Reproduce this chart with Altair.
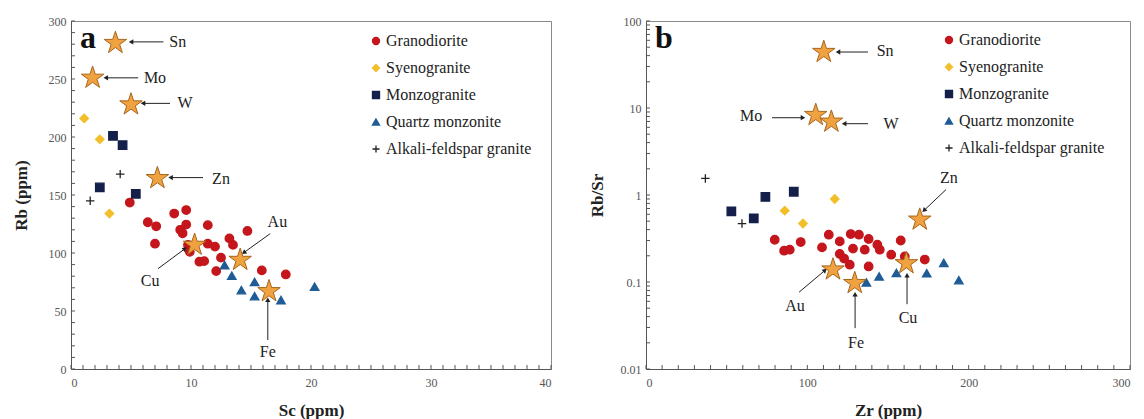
import math
import altair as alt
import pandas as pd

# ---------------- data: panel a (Sc vs Rb) ----------------
rocks = ["Granodiorite", "Syenogranite", "Monzogranite", "Quartz monzonite", "Alkali-feldspar granite"]
rock_colors = ["#C4161C", "#F2BF2A", "#14204A", "#1F5C96", "#222222"]
PLUS = "M-1,0H1M0,-1V1"
rock_shapes = ["circle", "diamond", "square", "triangle-up", PLUS]

gd_a_sc = [4.9, 8.6, 9.6, 6.4, 7.1, 9.6, 9.1, 9.3, 11.4, 7.0, 9.75, 9.9, 10.7, 11.1, 11.4, 12.0, 13.2, 13.5, 12.5, 12.1, 14.7, 15.9, 17.9]
gd_a_rb = [143.5, 134, 137, 126.5, 123, 124.5, 120, 117, 124, 108, 107, 101, 92.5, 93, 108, 105.5, 112.6, 107, 96, 84.4, 119, 85, 81.5]
sy_a_sc = [1.1, 2.4, 3.2]
sy_a_rb = [216, 198, 134]
mz_a_sc = [3.5, 4.3, 2.4, 5.4]
mz_a_rb = [201, 193, 156.5, 151]
qm_a_sc = [12.8, 13.4, 15.3, 14.2, 15.3, 17.5, 20.3]
qm_a_rb = [89.6, 80.4, 75, 68, 62.8, 59.4, 71]
af_a_sc = [4.1, 1.6]
af_a_rb = [168, 145]

elements = ["Sn", "Mo", "W", "Zn", "Cu", "Au", "Fe"]
star_a_sc = [3.7, 1.8, 5.0, 7.2, 10.3, 14.1, 16.5]
star_a_rb = [281, 251, 228, 164.5, 107, 94, 67]
# annotation: text position, arrow start, arrow end (data units)
lab_a_x = [8.9, 7.0, 9.5, 12.5, 6.6, 17.2, 16.4]
lab_a_y = [282, 250.5, 229, 164, 76, 127, 14.5]
arr_a_x1 = [7.7, 5.6, 8.25, 11.0, 7.25, 16.6, 16.4]
arr_a_y1 = [282, 251, 229, 165, 86.5, 116.7, 25]
arr_a_x2 = [5.0, 2.9, 6.0, 8.3, 9.5, 14.4, 16.4]
arr_a_y2 = [282, 251, 229, 165, 103.7, 100.3, 59.7]

# ---------------- data: panel b (Zr vs Rb/Sr) ----------------
gd_b_zr = [79.8, 85.6, 89.1, 95.9, 109.1, 113.3, 120.1, 126.9, 132, 120.1, 122.8, 126.3, 128.3, 135.6, 138, 143.4, 144.9, 138, 152, 157.9, 160.4, 172.8]
gd_b_rs = [0.306, 0.229, 0.235, 0.288, 0.25, 0.35, 0.293, 0.356, 0.35, 0.21, 0.186, 0.158, 0.242, 0.235, 0.312, 0.268, 0.235, 0.151, 0.206, 0.30, 0.197, 0.181]
sy_b_zr = [117, 86, 97.3]
sy_b_rs = [0.90, 0.66, 0.47]
mz_b_zr = [52.9, 66.8, 74, 91.6]
mz_b_rs = [0.65, 0.54, 0.95, 1.09]
qm_b_zr = [136.6, 144.5, 155.2, 174, 184.6, 193.9]
qm_b_rs = [0.099, 0.116, 0.127, 0.126, 0.166, 0.105]
af_b_zr = [36.8, 59.5]
af_b_rs = [1.55, 0.47]

star_b_zr = [110.2, 105.2, 114.9, 169.7, 161.4, 115.9, 129.4]
star_b_rs = [44, 8.3, 6.95, 0.52, 0.164, 0.139, 0.097]
lab_b_x = [148.2, 65.1, 151.9, 187.8, 162.4, 92.4, 130.2]
lab_b_y = [45.3, 8.15, 6.6, 1.58, 0.0385, 0.0527, 0.0199]
arr_b_x1 = [137.6, 78.1, 137.6, 186, 161.8, 94.9, 129.6]
arr_b_y1 = [44, 7.73, 6.6, 1.156, 0.0556, 0.0764, 0.0295]
arr_b_x2 = [119.0, 97.3, 122.8, 172.3, 161.8, 111.0, 129.6]
arr_b_y2 = [44, 7.73, 6.6, 0.664, 0.1194, 0.1364, 0.0724]

# ---------------- styling ----------------
SERIF = "Liberation Serif"
W_A, W_B, H = 480, 484, 348
STAR = ("M0,-1L0.2245,-0.309L0.951,-0.309L0.3633,0.118L0.5878,0.809L0,0.382"
        "L-0.5878,0.809L-0.3633,0.118L-0.951,-0.309L-0.2245,-0.309Z")


def rock_frame(groups):
    rows = []
    for rock, xs, ys in groups:
        for x, y in zip(xs, ys):
            rows.append({"x": x, "y": y, "rock": rock})
    return pd.DataFrame(rows)


def head_angle(x1, y1, x2, y2, sx, sy, logy):
    if logy:
        y1, y2 = math.log10(y1), math.log10(y2)
    dx = (x2 - x1) * sx
    dy = -(y2 - y1) * sy
    return math.degrees(math.atan2(dx, -dy)) % 360


def panel(df_pts, star_x, star_y, lab_x, lab_y, ax1, ay1, ax2, ay2,
          xscale, yscale, xaxis, yaxis, width, letter, logy,
          xminor, yminor, legend_x, legend_y):
    sx = width / (xscale.domain[1] - xscale.domain[0])
    if logy:
        sy = H / (math.log10(yscale.domain[1]) - math.log10(yscale.domain[0]))
    else:
        sy = H / (yscale.domain[1] - yscale.domain[0])

    X = lambda f, **k: alt.X(f, type="quantitative", scale=xscale, **k)
    Y = lambda f, **k: alt.Y(f, type="quantitative", scale=yscale, **k)

    legend = alt.Legend(orient="none", legendX=legend_x, legendY=legend_y, title=None,
                        labelFont=SERIF, labelFontSize=16, labelColor="#222",
                        symbolSize=50, symbolStrokeWidth=1.3, rowPadding=11,
                        labelOffset=2, padding=0)
    pts = alt.Chart(df_pts).mark_point(filled=True, opacity=1, size=72, strokeWidth=1.3).encode(
        x=X("x", axis=xaxis),
        y=Y("y", axis=yaxis),
        color=alt.Color("rock:N", scale=alt.Scale(domain=rocks, range=rock_colors), legend=legend),
        stroke=alt.Stroke("rock:N", scale=alt.Scale(domain=rocks, range=rock_colors), legend=legend),
        shape=alt.Shape("rock:N", scale=alt.Scale(domain=rocks, range=rock_shapes), legend=legend),
    )

    df_star = pd.DataFrame({"x": star_x, "y": star_y, "el": elements})
    stars = alt.Chart(df_star).mark_point(shape=STAR, filled=True, size=560, fill="#EFA23F",
                                          stroke="#A8651C", strokeWidth=1, opacity=1).encode(
        x=X("x"), y=Y("y"))

    df_lab = pd.DataFrame({"x": lab_x, "y": lab_y, "el": elements})
    labels = alt.Chart(df_lab).mark_text(font=SERIF, fontSize=16, color="#222").encode(
        x=X("x"), y=Y("y"), text="el:N")

    df_arr = pd.DataFrame({"x": ax1, "y": ay1, "x2": ax2, "y2": ay2,
                           "ang": [head_angle(a, b, c, d, sx, sy, logy) for a, b, c, d in zip(ax1, ay1, ax2, ay2)]})
    lines = alt.Chart(df_arr).mark_rule(color="#222", strokeWidth=1).encode(
        x=X("x"), y=Y("y"), x2="x2", y2="y2")
    heads = alt.Chart(df_arr).mark_point(shape="triangle-up", filled=True, color="#222",
                                         size=28, opacity=1).encode(
        x=X("x2"), y=Y("y2"), angle=alt.Angle("ang:Q", scale=None))

    ytk = alt.Chart(pd.DataFrame({"v": yminor})).mark_rule(color="#555", strokeWidth=1).encode(
        y=Y("v"), x=alt.value(0), x2=alt.value(4))
    xtk = alt.Chart(pd.DataFrame({"v": xminor})).mark_rule(color="#555", strokeWidth=1).encode(
        x=X("v"), y=alt.value(H - 4), y2=alt.value(H))

    letter_mark = alt.Chart(pd.DataFrame({"t": [letter]})).mark_text(
        font=SERIF, fontSize=32, fontWeight="bold", color="#111", align="left", baseline="middle"
    ).encode(x=alt.value(9), y=alt.value(17), text="t:N")

    return alt.layer(pts, ytk, xtk, lines, heads, labels, stars, letter_mark).properties(
        width=width, height=H)


def axis(title, values, fmt, title_pad, label_pad=5):
    return alt.Axis(title=title, values=values, format=fmt, ticks=False, grid=False,
                    domainColor="#555", labelFont=SERIF, labelFontSize=12, labelColor="#555",
                    titleFont=SERIF, titleFontSize=17, titleFontWeight="bold", titleColor="#222",
                    labelPadding=label_pad, titlePadding=title_pad)


sc_ticks = [0, 10, 20, 30, 40]
rb_ticks = [0, 50, 100, 150, 200, 250, 300]
zr_ticks = [0, 100, 200, 300]
rs_ticks = [0.01, 0.1, 1, 10, 100]

df_a = rock_frame([(rocks[0], gd_a_sc, gd_a_rb), (rocks[1], sy_a_sc, sy_a_rb), (rocks[2], mz_a_sc, mz_a_rb),
                   (rocks[3], qm_a_sc, qm_a_rb), (rocks[4], af_a_sc, af_a_rb)])
df_b = rock_frame([(rocks[0], gd_b_zr, gd_b_rs), (rocks[1], sy_b_zr, sy_b_rs), (rocks[2], mz_b_zr, mz_b_rs),
                   (rocks[3], qm_b_zr, qm_b_rs), (rocks[4], af_b_zr, af_b_rs)])

log_minor = [m * 10 ** e for e in range(-2, 2) for m in range(1, 10)] + [100]

panel_a = panel(df_a, star_a_sc, star_a_rb, lab_a_x, lab_a_y, arr_a_x1, arr_a_y1, arr_a_x2, arr_a_y2,
                alt.Scale(domain=[0, 40], nice=False, zero=False),
                alt.Scale(domain=[0, 300], nice=False, zero=False),
                axis("Sc (ppm)", sc_ticks, "d", 14, 8), axis("Rb (ppm)", rb_ticks, "d", 18),
                W_A, "a", False, list(range(0, 41)), list(range(0, 301, 10)), 297, 12)

panel_b = panel(df_b, star_b_zr, star_b_rs, lab_b_x, lab_b_y, arr_b_x1, arr_b_y1, arr_b_x2, arr_b_y2,
                alt.Scale(domain=[0, 300], nice=False, zero=False),
                alt.Scale(type="log", domain=[0.01, 100], nice=False),
                axis("Zr (ppm)", zr_ticks, "d", 14, 8), axis("Rb/Sr", rs_ticks, "~g", 14),
                W_B, "b", True, list(range(0, 301, 10)), log_minor, 295, 11)

chart = alt.hconcat(panel_a, panel_b, spacing=95, bounds="flush").resolve_scale(
    color="independent", shape="independent", stroke="independent"
).resolve_legend(color="independent", shape="independent", stroke="independent").properties(
    padding={"left": 11, "top": 14, "right": 0, "bottom": 0},
    background="white",
).configure_view(stroke="#8a8a8a", strokeWidth=1)

chart.save("out.html", embed_options={"renderer": "svg", "actions": False})
